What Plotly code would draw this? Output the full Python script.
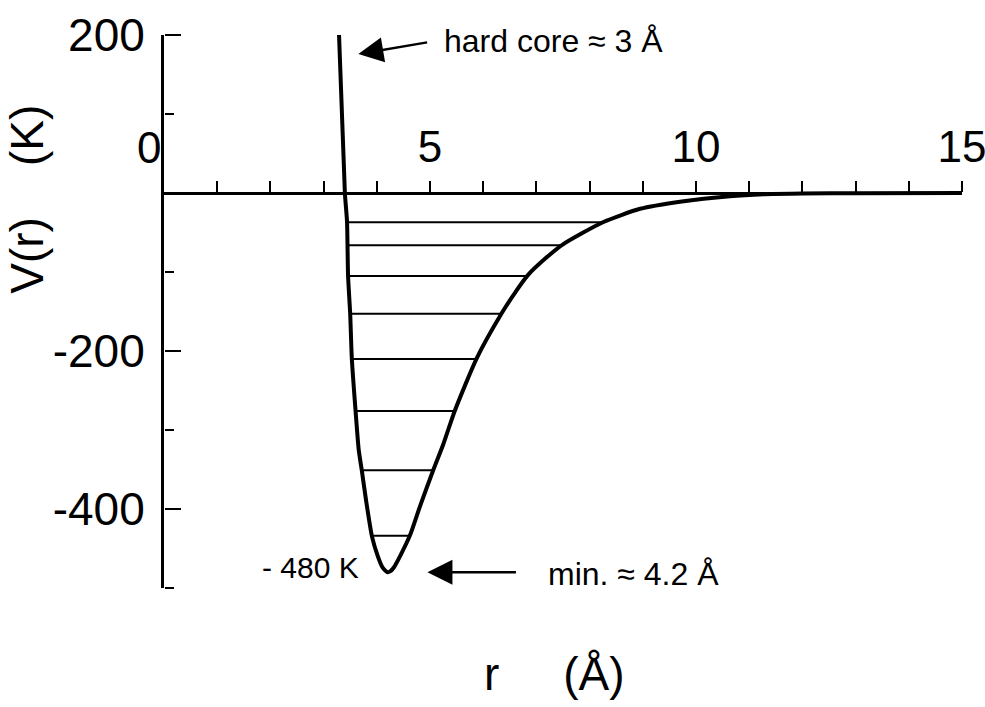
import plotly.graph_objects as go

# Interatomic pair potential V(r) (in K) versus separation r (in Å)
r_curve = [3.29, 3.40, 3.44, 3.46, 3.50, 3.53, 3.60, 3.66, 3.72, 3.80, 3.91, 4.02, 4.10, 4.16,
           4.20, 4.25, 4.32, 4.45, 4.62, 4.82, 5.06, 5.25, 5.47, 5.88, 6.35, 6.60, 6.84, 7.15,
           7.50, 8.25, 8.95, 9.70, 10.64, 11.30, 12.00, 13.00, 15.00]
v_curve = [200, 0, -36, -105, -153, -209, -275, -325, -352, -390, -435, -460, -473, -478,
           -480, -479, -474, -458, -434, -395, -351, -318, -275, -209, -152, -126, -104, -84,
           -65, -37, -20, -11, -4, -1.5, -0.5, -0.2, 0]

# Bound-state energy levels and their classical turning points
level_energy = [-37, -66, -105, -153, -210, -276, -351, -434]
level_r_left = [3.44, 3.44, 3.46, 3.50, 3.53, 3.61, 3.72, 3.91]
level_r_right = [8.28, 7.45, 6.82, 6.35, 5.88, 5.47, 5.06, 4.62]

# Characteristic points
R_CORE = 3.32
V_CORE_ARROW = 172
R_MIN = 4.2
V_MIN = -480

# Axes
X_RANGE = [0, 15]
Y_RANGE = [-500, 200]
x_tickvals = list(range(1, 16))
x_labelled = {5: "5", 10: "10", 15: "15"}
y_tickvals = [200, -200, -400]
y_ticktext = ["200", "-200", "-400"]
y_minor_tickvals = [100, -100, -300, -500]

FONT = "Liberation Sans, Arial, Helvetica, sans-serif"
NB = "\u00a0"

fig = go.Figure()

level_x, level_y = [], []
for e, rl, rr in zip(level_energy, level_r_left, level_r_right):
    level_x += [rl, rr, None]
    level_y += [e, e, None]

fig.add_trace(go.Scatter(x=level_x, y=level_y, mode="lines",
                         line=dict(color="black", width=2), hoverinfo="skip"))
fig.add_trace(go.Scatter(x=r_curve, y=v_curve, mode="lines",
                         line=dict(color="black", width=4, shape="spline", smoothing=0.6)))
# empty traces so the tick-only overlay axes get their own subplots
fig.add_trace(go.Scatter(x=[], y=[], yaxis="y2", hoverinfo="skip"))
fig.add_trace(go.Scatter(x=[], y=[], yaxis="y3", hoverinfo="skip"))

# x axis sits on the V = 0 line
x_axis_pos = (0 - Y_RANGE[0]) / (Y_RANGE[1] - Y_RANGE[0])

# tick-only copies of the V axis: placed on the left edge, ticks pointing into the plot
tick_axis = dict(
    range=Y_RANGE, overlaying="y", anchor="free", position=0, side="right",
    showline=False, showgrid=False, zeroline=False, showticklabels=False,
    ticks="outside", tickmode="array", tickwidth=2, tickcolor="black",
    automargin=False,
)

fig.update_layout(
    width=985, height=707,
    margin=dict(l=164, r=23, t=35, b=119, autoexpand=False),
    paper_bgcolor="white", plot_bgcolor="white",
    showlegend=False,
    font=dict(family=FONT, color="black"),
    xaxis=dict(
        range=X_RANGE, anchor="free", position=x_axis_pos, side="top",
        showline=True, linecolor="black", linewidth=3,
        showgrid=False, zeroline=False,
        ticks="outside", tickmode="array", tickvals=x_tickvals,
        ticktext=[x_labelled.get(v, "") for v in x_tickvals],
        ticklen=11, tickwidth=2, tickcolor="black",
        tickfont=dict(size=44, family=FONT, color="black"),
        ticklabelstandoff=1, ticklabeloverflow="allow", automargin=False,
    ),
    yaxis=dict(
        range=Y_RANGE,
        showline=True, linecolor="black", linewidth=3,
        showgrid=False, zeroline=False,
        ticks="", tickmode="array", tickvals=y_tickvals, ticktext=y_ticktext,
        tickfont=dict(size=46, family=FONT, color="black"),
        ticklabelstandoff=7, automargin=False,
    ),
    yaxis2=dict(tick_axis, tickvals=y_tickvals, ticklen=16),
    yaxis3=dict(tick_axis, tickvals=y_minor_tickvals, ticklen=9),
)

annotations = [
    # origin label of the r axis, set just left of the V axis
    dict(x=0, y=0, xref="x", yref="y", text="0", showarrow=False,
         xanchor="right", yanchor="bottom", xshift=-1, yshift=19,
         font=dict(size=44, family=FONT)),
    # axis titles
    dict(x=-0.172, y=0.7034, xref="paper", yref="paper",
         text="V(r)" + NB * 4 + "(K)", textangle=-90, showarrow=False,
         xanchor="center", yanchor="middle", font=dict(size=46, family=FONT)),
    dict(x=0.4893, y=-0.156, xref="paper", yref="paper",
         text="r" + NB * 5 + "(Å)", showarrow=False,
         xanchor="center", yanchor="middle", font=dict(size=46, family=FONT)),
    # hard core
    dict(x=R_CORE, y=V_CORE_ARROW, xref="x", yref="y", text="", showarrow=True,
         ax=88, ay=-15, standoff=18, arrowhead=2, arrowsize=2, arrowwidth=2.5,
         arrowcolor="black"),
    dict(x=R_CORE, y=V_CORE_ARROW, xref="x", yref="y",
         text="hard core ≈ 3 Å", showarrow=False, xanchor="left", yanchor="middle",
         xshift=101, yshift=16, font=dict(size=32, family=FONT)),
    # well minimum
    dict(x=R_MIN, y=V_MIN, xref="x", yref="y", text=f"- {abs(V_MIN)} K",
         showarrow=False, xanchor="right", yanchor="middle", xshift=-26, yshift=5,
         font=dict(size=30, family=FONT)),
    dict(x=R_MIN, y=V_MIN, xref="x", yref="y", text="", showarrow=True,
         ax=130, ay=0, standoff=40, arrowhead=2, arrowsize=2, arrowwidth=2.5,
         arrowcolor="black"),
    dict(x=R_MIN, y=V_MIN, xref="x", yref="y", text=f"min. ≈ {R_MIN} Å",
         showarrow=False, xanchor="left", yanchor="middle", xshift=159, yshift=-2,
         font=dict(size=32, family=FONT)),
]
fig.update_layout(annotations=annotations)

fig.write_html("out.html")
